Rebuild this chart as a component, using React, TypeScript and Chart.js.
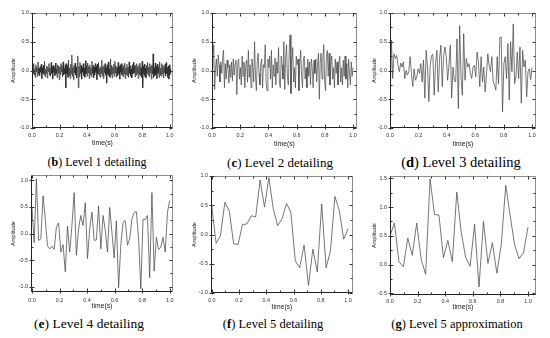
import React, { useEffect, useRef } from 'react';
import { Chart, registerables } from 'chart.js';
Chart.register(...registerables);

// ---------- data (amplitudes) ----------
const level1Detail = [
  -0.18, 0.08, -0.05, 0.12, -0.08, 0.03, -0.12, 0.10, -0.02, 0.06, -0.10, 0.15, -0.06, 0.04, -0.09, 0.07,
  -0.03, 0.11, -0.14, 0.05, -0.04, 0.09, -0.07, 0.16, -0.11, 0.02, -0.05, 0.08, -0.13, 0.06, -0.02, 0.12,
  -0.08, 0.04, -0.10, 0.14, -0.05, 0.07, -0.15, 0.09, -0.03, 0.05, -0.09, 0.13, -0.06, 0.03, -0.12, 0.10,
  -0.04, 0.08, -0.16, 0.06, -0.07, 0.12, -0.02, 0.09, -0.11, 0.15, -0.08, 0.04, -0.06, 0.10, -0.30, 0.12,
  -0.05, 0.08, -0.12, 0.18, -0.09, 0.04, -0.14, 0.11, -0.06, 0.27, -0.10, 0.05, -0.16, 0.09, -0.04, 0.13,
  -0.08, 0.06, -0.13, 0.10, 0.25, -0.30, 0.07, -0.11, 0.14, -0.05, 0.09, -0.15, 0.06, -0.03, 0.12, -0.09,
  0.04, -0.12, 0.17, -0.06, 0.08, -0.10, 0.13, -0.04, 0.07, -0.14, 0.10, -0.07, 0.05, -0.11, 0.16, -0.05,
  0.09, -0.13, 0.06, -0.08, 0.12, -0.03, 0.08, -0.16, 0.11, -0.06, 0.14, -0.09, 0.04, -0.12, 0.07, -0.05,
  0.18, -0.10, 0.06, -0.14, 0.09, -0.04, 0.12, -0.08, 0.05, -0.22, 0.10, -0.06, 0.15, -0.09, 0.03, -0.12,
  0.20, -0.07, 0.09, -0.13, 0.06, -0.05, 0.11, -0.10, 0.16, -0.04, 0.08, -0.12, 0.05, -0.09, 0.14, -0.06,
  0.07, -0.15, 0.10, -0.03, 0.12, -0.08, 0.05, -0.11, 0.09, -0.06, 0.13, -0.14, 0.04, -0.07, 0.11, -0.09,
  0.06, -0.12, 0.15, -0.05, 0.08, -0.10, 0.03, -0.13, 0.10, -0.06, 0.14, -0.04, 0.07, -0.11, 0.09, -0.08,
  0.12, -0.05, 0.06, -0.14, 0.10, -0.07, 0.13, -0.09, 0.05, -0.12, 0.16, -0.30, 0.08, -0.06, 0.11, -0.10,
  0.04, -0.13, 0.09, -0.05, 0.14, -0.08, 0.06, -0.11, 0.12, -0.04, 0.07, -0.15, 0.10, -0.06, 0.29, -0.12,
  0.05, -0.09, 0.13, -0.07, 0.08, -0.14, 0.11, -0.05, 0.06, -0.12, 0.15, -0.08, 0.04, -0.10, 0.12, -0.06,
  0.09, -0.13, 0.07, -0.04, 0.11, -0.09, 0.14, -0.06, 0.05, -0.12, 0.08, -0.15, 0.10, -0.07, 0.03, -0.05,
];

const level2Detail = [
  0.05, 0.25, 0.45, -0.33, 0.05, 0.20, -0.10, 0.27, 0.10, -0.20, 0.15, -0.05, 0.22, 0.35, -0.30, 0.12,
  -0.15, 0.18, 0.05, -0.22, 0.10, -0.12, 0.15, -0.18, 0.20, -0.08, 0.12, 0.18, -0.42, 0.10, 0.20, -0.15,
  0.05, -0.25, 0.25, -0.10, 0.15, -0.30, 0.08, 0.18, -0.20, 0.35, -0.12, 0.10, -0.30, 0.20, 0.05, -0.20,
  0.50, -0.10, -0.35, 0.15, 0.30, -0.05, -0.25, 0.12, 0.20, -0.30, 0.10, 0.05, 0.45, -0.20, -0.35, 0.20,
  0.05, 0.25, -0.15, 0.35, -0.30, 0.10, -0.10, 0.22, -0.25, 0.15, -0.05, 0.40, -0.20, -0.30, 0.25, 0.10,
  -0.15, 0.50, -0.33, 0.20, 0.45, -0.10, -0.25, 0.30, 0.62, -0.40, 0.15, 0.40, -0.20, 0.05, -0.30, 0.25,
  0.10, 0.20, -0.35, 0.15, 0.35, -0.10, -0.30, 0.18, 0.25, -0.15, 0.05, -0.30, 0.20, -0.10, 0.15, -0.25,
  0.20, 0.05, -0.30, 0.18, -0.05, 0.20, -0.20, 0.10, 0.30, -0.50, 0.15, 0.30, -0.15, 0.20, 0.45, -0.20,
  -0.35, 0.25, 0.35, -0.10, 0.30, -0.25, 0.10, 0.25, -0.15, 0.05, -0.30, 0.20, -0.05, 0.15, -0.25, 0.10,
  0.25, -0.20, 0.05, -0.25, 0.18, -0.10, 0.25, -0.15, 0.12, -0.30, 0.20, -0.05, -0.25, 0.15, -0.10, 0.05,
];

const level3Detail = [
  -0.72, 0.53, -0.14, 0.29, 0.21, 0.26, 0.09, -0.02, 0.13, 0.06, 0.15,
  -0.14, 0.0, -0.08, -0.02, 0.24, -0.05, -0.28, 0.03, -0.17, -0.11,
  0.03, -0.05, 0.12, -0.2, 0.18, -0.48, 0.35, 0.06, -0.54, 0.09,
  0.26, 0.28, -0.43, 0.12, 0.35, -0.37, 0.21, 0.44, -0.28, 0.24,
  0.41, 0.24, -0.17, 0.09, 0.44, -0.48, 0.06, -0.17, -0.2, 0.55,
  -0.66, 0.78, -0.11, -0.43, 0.64, -0.17, 0.21, 0.06, 0.12, -0.05,
  -0.14, 0.06, 0.09, -0.11, 0.32, 0.15, -0.28, 0.24, -0.2, 0.06,
  -0.37, -0.08, 0.29, 0.09, -0.02, 0.24, -0.2, -0.25, -0.34, 0.24,
  -0.23, 0.58, 0.58, -0.72, 0.12, 0.24, -0.14, 0.47, -0.51, 0.5,
  -0.02, 0.81, -0.23, -0.11, 0.32, -0.14, 0.41, -0.57, 0.35, 0.06,
  0.18, -0.46, -0.02, 0.03, -0.16, 0.05,
];

const level4Detail = [
  0.5, -0.17, 1.03, -0.13, -0.1, 0.71, 0.27, -0.23, -0.29, -0.24,
  -0.3, 0.12, 0.2, -0.35, -0.21, -0.72, 0.14, -0.35, 0.15, 0.77,
  -0.41, 0.09, 0.34, 0.15, 0.58, -0.47, 0.09, 0.4, -0.13, -0.12,
  0.52, -0.29, 0.34, 0.06, -0.35, 0.49, 0.02, -0.46, 0.24, -1.02,
  -0.22, 0.21, 0.24, -0.22, -0.1, 0.27, 0.4, 0.41, -0.1, -1.04,
  0.27, 0.26, 0.34, -0.83, 0.77, -0.71, -0.07, -0.3, -0.26, -0.07,
  -0.35, 0.4, 0.62,
];

const level5Detail = [
  0.5, -0.15, -0.02, 0.55, 0.4, -0.16, -0.17, 0.17, 0.18, 0.32, 0.3,
  0.93, 0.47, 0.97, 0.44, 0.15, 0.27, 0.53, 0.38, -0.45, -0.57, -0.18,
  -0.87, -0.25, -0.64, 0.52, -0.57, -0.28, 0.65, 0.41, -0.08, 0.1,
];

const level5Approx = [
  0.5, 0.72, 0.05, -0.04, 0.46, 0.16, 0.72, 0.09, -0.17, 1.49, 0.87,
  0.86, 0.12, 0.42, 0.05, 1.26, 0.56, 0.12, -0.03, 0.70, -0.39, 0.75,
  0.02, 0.38, -0.15, 0.35, 1.38, 0.85, 0.34, 0.10, 0.21, 0.65,
];

const xTickLabels = ['0.0', '0.2', '0.4', '0.6', '0.8', '1.0'];

// ---------- panel layout ----------
type Spec = {
  values: number[]; tEnd: number;
  xMin: number; xMax: number; yMin: number; yMax: number;
  L: number; R: number; T: number; B: number;
  yTitleX: number; xTitleY: number; xLabelY: number;
  letter: string; text: string; capX: number; capY: number; capSize: number;
  lineColor: string; lineWidth: number;
};

const specs: Spec[] = [
  { values: level1Detail, tEnd: 1.01, xMin: 0, xMax: 1.024, yMin: -1, yMax: 1,
    L: 32, R: 173, T: 13, B: 128, yTitleX: 13, xTitleY: 143, xLabelY: 135,
    letter: 'b', text: 'Level 1 detailing', capX: 97, capY: 162, capSize: 12,
    lineColor: '#2a2a2a', lineWidth: 0.7 },
  { values: level2Detail, tEnd: 1.0, xMin: 0, xMax: 1.028, yMin: -1, yMax: 1,
    L: 212, R: 357, T: 13, B: 128, yTitleX: 194, xTitleY: 144, xLabelY: 135,
    letter: 'c', text: 'Level 2 detailing', capX: 280, capY: 162, capSize: 13,
    lineColor: '#454545', lineWidth: 0.7 },
  { values: level3Detail, tEnd: 1.0, xMin: 0, xMax: 1.028, yMin: -1, yMax: 1,
    L: 390, R: 536, T: 13, B: 128, yTitleX: 374, xTitleY: 144, xLabelY: 135,
    letter: 'd', text: 'Level 3 detailing', capX: 461, capY: 162, capSize: 14.5,
    lineColor: '#4a4a4a', lineWidth: 0.75 },
  { values: level4Detail, tEnd: 1.0, xMin: -0.007, xMax: 1.024, yMin: -1.1, yMax: 1.1,
    L: 31, R: 173, T: 175, B: 292, yTitleX: 13, xTitleY: 306, xLabelY: 300,
    letter: 'e', text: 'Level 4 detailing', capX: 89, capY: 324, capSize: 13.5,
    lineColor: '#4a4a4a', lineWidth: 0.75 },
  { values: level5Detail, tEnd: 1.0, xMin: -0.005, xMax: 1.036, yMin: -1, yMax: 1,
    L: 211, R: 353, T: 176, B: 293, yTitleX: 194, xTitleY: 307, xLabelY: 300,
    letter: 'f', text: 'Level 5 detailing', capX: 273, capY: 324, capSize: 12.5,
    lineColor: '#4a4a4a', lineWidth: 0.75 },
  { values: level5Approx, tEnd: 1.0, xMin: 0, xMax: 1.058, yMin: -0.53, yMax: 1.54,
    L: 390, R: 536, T: 176, B: 295, yTitleX: 374, xTitleY: 307, xLabelY: 301,
    letter: 'g', text: 'Level 5 approximation', capX: 457, capY: 324, capSize: 12.5,
    lineColor: '#4a4a4a', lineWidth: 0.75 },
];

const TICK_FONT = 5.4;
const YT_FONT = 5.6;
const XT_FONT = 6.8;

const framePlugin = {
  id: 'frame',
  afterDraw(chart: any) {
    const { ctx, chartArea: a, scales } = chart;
    const xs = scales.x, ys = scales.y;
    const l = Math.round(a.left) + 0.5, r = Math.round(a.right) - 0.5;
    const t = Math.round(a.top) + 0.5, b = Math.round(a.bottom) - 0.5;
    ctx.save();
    ctx.lineWidth = 1;
    ctx.strokeStyle = '#8c8c8c';
    ctx.beginPath();
    ctx.moveTo(l, t); ctx.lineTo(r, t); ctx.lineTo(r, b);
    ctx.stroke();
    ctx.strokeStyle = '#222';
    ctx.beginPath();
    ctx.moveTo(l, t); ctx.lineTo(l, b); ctx.lineTo(r, b);
    ctx.stroke();

    const xMaj: number[] = xs.ticks.map((k: any) => k.value);
    const yMaj: number[] = ys.ticks.map((k: any) => k.value);
    const xMin: number[] = [];
    for (let v = xMaj[0] - 0.1; v <= xs.max + 1e-9; v += 0.2) if (v >= xs.min) xMin.push(v);
    const yMin: number[] = [];
    for (let v = yMaj[0] - 0.25; v <= ys.max + 1e-9; v += 0.5) if (v >= ys.min) yMin.push(v);

    ctx.strokeStyle = '#333';
    ctx.beginPath();
    xMaj.forEach((v) => {
      const p = Math.round(xs.getPixelForValue(v)) + 0.5;
      ctx.moveTo(p, b + 2); ctx.lineTo(p, b - 3);
      ctx.moveTo(p, t); ctx.lineTo(p, t + 3);
    });
    xMin.forEach((v) => {
      const p = Math.round(xs.getPixelForValue(v)) + 0.5;
      ctx.moveTo(p, b); ctx.lineTo(p, b - 2);
      ctx.moveTo(p, t); ctx.lineTo(p, t + 2);
    });
    yMaj.forEach((v) => {
      const p = Math.round(ys.getPixelForValue(v)) + 0.5;
      ctx.moveTo(l - 2, p); ctx.lineTo(l + 3, p);
      ctx.moveTo(r, p); ctx.lineTo(r - 3, p);
    });
    yMin.forEach((v) => {
      const p = Math.round(ys.getPixelForValue(v)) + 0.5;
      ctx.moveTo(l, p); ctx.lineTo(l + 2, p);
      ctx.moveTo(r, p); ctx.lineTo(r - 2, p);
    });
    ctx.stroke();
    ctx.restore();
  },
};

function fmt(v: number) {
  return (Math.abs(v) < 1e-9 ? 0 : v).toFixed(1);
}

function Panel({ s }: { s: Spec }) {
  const ref = useRef<HTMLCanvasElement | null>(null);
  const cLeft = s.yTitleX - 6;
  const cTop = s.T - 12;
  const cRight = s.R + 6;
  const cBottom = s.xTitleY + 6;
  const W = cRight - cLeft;
  const H = cBottom - cTop;

  useEffect(() => {
    if (!ref.current) return;
    const n = s.values.length;
    const dt = s.tEnd / (n - 1);
    const pts = s.values.map((v, i) => ({ x: i * dt, y: v }));
    const yw = s.L - cLeft;
    const xh = cBottom - s.B;
    const chart = new Chart(ref.current, {
      type: 'line',
      data: {
        datasets: [{
          data: pts,
          borderColor: s.lineColor,
          borderWidth: s.lineWidth,
          pointRadius: 0,
          tension: 0,
          fill: false,
        }],
      },
      options: {
        animation: false,
        responsive: false,
        devicePixelRatio: 1,
        events: [],
        layout: { padding: { left: 0, top: s.T - cTop, right: cRight - s.R, bottom: 0 } },
        plugins: { legend: { display: false }, tooltip: { enabled: false } },
        scales: {
          x: {
            type: 'linear',
            min: s.xMin, max: s.xMax,
            grid: { display: false, drawTicks: false },
            border: { display: false },
            ticks: {
              stepSize: 0.2, includeBounds: false, autoSkip: false, maxRotation: 0,
              padding: s.xLabelY - s.B - 3,
              color: '#333',
              font: { family: 'Liberation Sans', size: TICK_FONT },
              callback: (v: any) => {
                const lbl = fmt(Number(v));
                return xTickLabels.includes(lbl) ? lbl : '';
              },
            },
            title: {
              display: true, text: 'time(s)', color: '#222',
              font: { family: 'Liberation Sans', size: XT_FONT, lineHeight: 1.2 },
              padding: { top: 0, bottom: 6 - (XT_FONT * 1.2) / 2 },
            },
            afterFit: (sc: any) => { sc.height = xh; },
          },
          y: {
            type: 'linear',
            min: s.yMin, max: s.yMax,
            grid: { display: false, drawTicks: false },
            border: { display: false },
            ticks: {
              stepSize: 0.5, includeBounds: false, padding: 3,
              color: '#333',
              font: { family: 'Liberation Sans', size: TICK_FONT },
              callback: (v: any) => fmt(Number(v)),
            },
            title: {
              display: true, text: 'Amplitude', color: '#222',
              font: { family: 'Liberation Sans', size: YT_FONT, lineHeight: 1.2 },
              padding: { top: 6 - (YT_FONT * 1.2) / 2, bottom: 0 },
            },
            afterFit: (sc: any) => { sc.width = yw; },
          },
        },
      },
      plugins: [framePlugin],
    } as any);
    return () => chart.destroy();
  }, []);

  return (
    <>
      <canvas
        ref={ref}
        width={W}
        height={H}
        style={{ position: 'absolute', left: cLeft, top: cTop, width: W, height: H }}
      />
      <div
        style={{
          position: 'absolute', left: s.capX, top: s.capY,
          transform: 'translate(-50%, -50%)', whiteSpace: 'nowrap',
          fontFamily: '"Liberation Serif", serif', fontSize: s.capSize, color: '#000',
          lineHeight: 1,
        }}
      >
        (<b>{s.letter}</b>) {s.text}
      </div>
    </>
  );
}

export default function App() {
  return (
    <div style={{ position: 'absolute', left: 0, top: 0, width: 550, height: 338, background: '#fff', overflow: 'hidden' }}>
      {specs.map((s, i) => <Panel key={i} s={s} />)}
    </div>
  );
}
